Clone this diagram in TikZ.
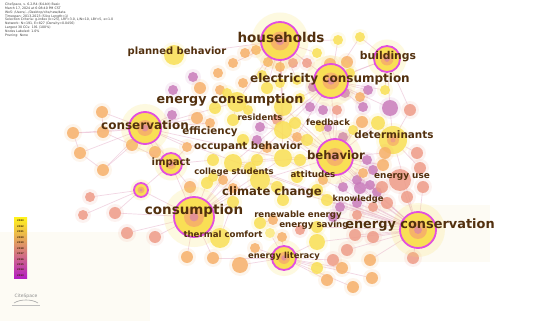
\documentclass[tikz,border=0pt]{standalone}
\usepackage{fontspec}
\setmainfont{DejaVu Sans}
\usetikzlibrary{backgrounds}
\definecolor{cY}{HTML}{F9DF55}
\definecolor{cG}{HTML}{FAC65C}
\definecolor{cO}{HTML}{F6B06A}
\definecolor{cS}{HTML}{EE9C88}
\definecolor{cP}{HTML}{C97CBB}
\definecolor{cL}{HTML}{FBE97E}
\definecolor{ring}{HTML}{E24FDF}
\definecolor{txt}{HTML}{52300E}
\definecolor{lnkc}{HTML}{E6AEC8}
\definecolor{cream}{HTML}{FDFBF4}
\definecolor{legY}{HTML}{FFF01E}
\definecolor{legO}{HTML}{F99A4A}
\definecolor{legP}{HTML}{B51FC4}
\pgfdeclarelayer{bglayer}
\pgfdeclarelayer{linklayer}
\pgfsetlayers{bglayer,linklayer,main}
\tikzset{
  dot/.style={circle, inner sep=0pt, fill opacity=0.85, draw=none},
  hub/.style={circle, inner sep=0pt, fill=cY, draw=ring, line width=1.8pt},
  lnk/.style={draw=lnkc, line width=0.7pt, opacity=0.5},
  lbl/.style={text=txt, inner sep=0pt, font=\fontsize{#1}{#1}\selectfont\bfseries},
  yr/.style={text=txt!80!black, inner sep=0pt, font=\fontsize{2.4}{2.6}\selectfont\bfseries},
  hdr/.style={text=black!75, inner sep=0pt, align=left, anchor=north west, font=\fontsize{3.2}{3.8}\selectfont}
}
\begin{document}
\begin{tikzpicture}[x=1pt,y=-1pt]
\useasboundingbox (0,0) rectangle (550,321);
\begin{pgfonlayer}{bglayer}
  \fill[white] (0,0) rectangle (550,321);
  \fill[cream] (0,232) rectangle (150,321);
  \fill[cream] (330,205) rectangle (490,262);
\end{pgfonlayer}

% ordinary nodes
\foreach \i/\x/\y/\r/\c in {
1/174/55/10/cY, 2/245/53/5/cO, 3/256/50/5/cO, 4/268/62/5/cO, 5/338/40/5/cY, 6/360/37/5/cY,
7/317/53/5/cY, 8/330/64/6/cO, 9/347/62/6/cO, 10/193/77/5/cP, 11/218/73/5/cO, 12/173/90/5/cP,
13/200/88/6/cO, 14/220/90/5/cO, 15/233/63/5/cO, 16/243/83/5/cO, 17/262/75/5/cY, 18/280/67/5/cO,
19/293/63/5/cS, 20/307/63/5/cS, 21/297/80/5/cY, 22/280/83/5/cY, 23/267/88/6/cY, 24/350/73/5/cY,
25/345/93/5/cP, 26/368/90/5/cP, 27/360/97/5/cO, 28/385/90/5/cY, 31/363/107/5/cP, 32/313/87/5/cP,
33/325/93/5/cP, 36/227/93/5/cY, 37/237/102/10/cY, 39/283/107/9/cY, 40/300/98/5/cY, 41/337/110/5/cS,
42/323/110/5/cP, 44/277/120/5/cS, 45/283/130/9/cY, 46/260/127/5/cP, 47/248/110/5/cY, 48/233/120/6/cY,
49/210/123/5/cO, 50/320/127/5/cY, 51/328/128/4/cP, 52/343/137/5/cP, 53/353/130/5/cY, 54/307/140/6/cY,
55/297/137/5/cO, 56/257/140/5/cP, 57/267/148/5/cO, 58/283/158/9/cY, 59/243/140/6/cY, 60/213/160/6/cY,
61/233/163/9/cY, 62/257/160/6/cY, 63/300/160/6/cY, 64/367/160/5/cP, 65/373/170/5/cP, 66/207/183/6/cY,
67/223/180/5/cO, 68/260/180/10/cY, 69/277/187/6/cY, 70/297/177/6/cY, 71/323/180/5/cO, 72/343/187/5/cP,
73/357/180/5/cP, 74/370/185/5/cP, 75/283/200/6/cY, 76/327/200/6/cY, 77/340/207/5/cP, 78/357/203/5/cP,
79/373/207/5/cS, 80/172/115/5/cP, 81/197/118/6/cO, 82/215/108/6/cY, 84/295/123/6/cY, 85/310/107/5/cP,
91/155/152/6/cO, 92/187/147/5/cO, 93/250/168/6/cY, 96/363/173/5/cO, 99/190/187/6/cO, 100/213/177/5/cY,
101/233/188/5/cO, 102/317/190/6/cY, 105/377/192/5/cP, 107/115/213/6/cS, 108/127/233/6/cS, 109/155/237/6/cS,
110/90/197/5/cS, 111/83/215/5/cS, 112/220/238/10/cY, 113/233/202/6/cY, 114/260/223/6/cY, 115/270/233/5/cL,
116/273/220/5/cO, 117/282/237/5/cO, 118/300/230/5/cS, 119/317/242/8/cY, 120/317/227/6/cY, 121/333/217/5/cP,
124/357/215/5/cS, 125/187/257/6/cO, 126/213/258/6/cO, 127/240/265/8/cO, 128/255/248/5/cO, 129/317/268/6/cY,
130/333/260/6/cS, 131/347/250/6/cS, 132/342/268/6/cO, 133/370/260/6/cO, 134/372/278/6/cO, 135/327/280/6/cO,
136/353/287/6/cO, 137/413/258/6/cS, 140/390/108/8/cP, 141/410/110/6/cS, 142/362/122/6/cO, 143/378/123/7/cY,
144/393/140/14/cY, 145/417/153/6/cS, 146/385/153/6/cO, 148/383/165/6/cO, 149/420/168/6/cS, 151/400/180/11/cS,
152/423/187/6/cS, 153/382/187/6/cS, 155/360/188/6/cP, 156/407/197/6/cS, 157/387/203/6/cS, 158/355/235/6/cS,
159/373/237/6/cS, 161/102/112/6/cO, 162/73/133/6/cO, 163/103/132/6/cO, 164/132/145/6/cO, 165/80/153/6/cO,
166/103/170/6/cO}
{
  \fill[\c, opacity=0.12] (\x,\y) circle ({\r+3});
  \node[dot, fill=\c, minimum size={2*\r pt}] (n\i) at (\x,\y) {};
}
\fill[cO, opacity=0.8] (n144) circle (6);
\fill[cS, opacity=0.8] (n144) circle (2.5);

% hubs (ringed nodes)
\foreach \n/\x/\y/\r in {H/280/41/19, B/387/59/13, EC/331/81/17, CO/145/128/16, BE/335/157/18,
  IM/171/164/11, SR/141/190/7, CS/194/217/20, EN/418/230/18, EL/284/258/12}
{
  \fill[cY, opacity=0.18] (\x,\y) circle ({\r*1.5});
  \node[hub, minimum size={2*\r pt}] (\n) at (\x,\y) {};
  \fill[cO, opacity=0.9] (\n) circle ({\r*0.5});
  \fill[cS!70!cP] (\n) circle ({\r*0.22});
}

% links
\begin{pgfonlayer}{linklayer}
\foreach \a/\b in {
H/n2, H/n3, H/n4, H/n7, H/n15, H/n17, H/n18, H/n19, H/n20, H/n21, H/n22, H/n23, H/EC, H/n37, H/n39, H/n1, H/n5,
EC/n5, EC/n6, EC/n9, EC/n24, EC/n25, EC/n26, EC/n27, EC/n28, EC/n31, EC/n32, EC/n33, EC/B, EC/BE, EC/n39, EC/n45, EC/n140,
B/n6, B/n24, B/n28, B/n140, B/n141,
CO/n161, CO/n162, CO/n163, CO/n164, CO/n165, CO/n166, CO/n80, CO/n81, CO/n91, CO/n92, CO/IM, CO/n37, CO/n49,
n161/n163, n162/n163, n162/n165, n163/n164, n165/n166, n164/n166,
BE/n50, BE/n51, BE/n52, BE/n53, BE/n54, BE/n63, BE/n64, BE/n65, BE/n71, BE/n72, BE/n73, BE/n96, BE/n142, BE/n143,
BE/n146, BE/n148, BE/EN, BE/n45, BE/n58, BE/n84, BE/n41,
IM/n91, IM/n92, IM/n99, IM/n60, IM/n164, IM/SR, IM/CS,
SR/n110, SR/n111, SR/n107, SR/CS,
CS/n107, CS/n108, CS/n109, CS/n112, CS/n113, CS/n125, CS/n126, CS/n99, CS/n101, CS/n66, CS/n67, CS/n68, CS/n61,
EN/n124, EN/n131, EN/n133, EN/n137, EN/n151, EN/n152, EN/n156, EN/n157, EN/n158, EN/n159, EN/n76, EN/n77,
EN/n78, EN/n79, EN/n119, EN/n120, EN/n121, EN/n144, EN/n58, EN/n45, EN/n61, EN/n37, EN/n68, EN/CO,
EL/n127, EL/n128, EL/n129, EL/n130, EL/n132, EL/n135, EL/n134, EL/n136, EL/n115, EL/n117, EL/n126, EL/n119,
n144/n141, n144/n140, n144/n145, n144/n146, n144/n149, n144/n143,
n37/n36, n37/n47, n37/n48, n39/n44, n45/n46, n58/n62, n68/n69, n68/n93, n112/n113, n114/n116,
H/n45, H/n58, EC/n58, EC/n61, CS/n58, CS/n45, EN/n39, BE/n68, BE/n61, CO/n58}
{ \draw[lnk] (\a) -- (\b); }
\end{pgfonlayer}

% labels
\node[lbl=13.5] (lhouse) at (281,37) {households};
\node[lbl=10] (lplan) at (177,52) {planned behavior};
\node[lbl=10.8] (lbuild) at (388,57) {buildings};
\node[lbl=12] (lelec) at (330,79) {electricity consumption};
\node[lbl=12.7] (lencons) at (230,100) {energy consumption};
\node[lbl=12] (lconserv) at (145,125) {conservation};
\node[lbl=8.5] (lres) at (260,117) {residents};
\node[lbl=8.5] (lfeed) at (328,122) {feedback};
\node[lbl=10.3] (leff) at (210,132) {efficiency};
\node[lbl=10.4] (ldet) at (394,135) {determinants};
\node[lbl=10.3] (locc) at (248,147) {occupant behavior};
\node[lbl=11.7] (lbeh) at (336,155) {behavior};
\node[lbl=10.1] (limp) at (171,163) {impact};
\node[lbl=8.5] (lcol) at (234,172) {college students};
\node[lbl=8.7] (latt) at (313,174) {attitudes};
\node[lbl=8.9] (luse) at (402,177) {energy use};
\node[lbl=11.6] (lclim) at (272,192) {climate change};
\node[lbl=8.3] (lknow) at (358,199) {knowledge};
\node[lbl=13.5] (lcons) at (194,211) {consumption};
\node[lbl=8.6] (lren) at (298,215) {renewable energy};
\node[lbl=8.7] (lsav) at (314,225) {energy saving};
\node[lbl=12.9] (lencon) at (420,225) {energy conservation};
\node[lbl=8.6] (ltherm) at (223,234) {thermal comfort};
\node[lbl=8.4] (llit) at (284,256) {energy literacy};

% header
\node[hdr] (hdr) at (5,3) {CiteSpace, v. 6.2.R4 (64-bit) Basic\\
March 17, 2024 at 6:08:40 PM CST\\
WoS: /Users/.../Desktop/cite/new/data\\
Timespan: 2013-2023 (Slice Length=1)\\
Selection Criteria: g-index (k=25), LRF=3.0, L/N=10, LBY=5, e=1.0\\
Network: N=191, E=827 (Density=0.0456)\\
Largest 30 CCs: 191 (100\%)\\
Nodes Labeled: 1.0\%\\
Pruning: None};

% legend
\shade[top color=legY, middle color=legO, bottom color=legP] (14,218) rectangle (27,278);
\foreach \k/\yy in {0/2023,1/2022,2/2021,3/2020,4/2019,5/2018,6/2017,7/2016,8/2015,9/2014,10/2013}
{ \node[yr] (y\yy) at (20.5,{221+\k*5.45}) {\yy}; }

% logo
\node[text=black!45, inner sep=0pt, font=\fontsize{4.5}{5}\selectfont] (logo) at (26,296) {CiteSpace};
\draw[black!35, line width=0.6pt] (14,303) .. controls (20,299) and (32,299) .. (38,303);
\draw[black!25, line width=0.5pt] (12,305) -- (40,305);
\end{tikzpicture}
\end{document}
